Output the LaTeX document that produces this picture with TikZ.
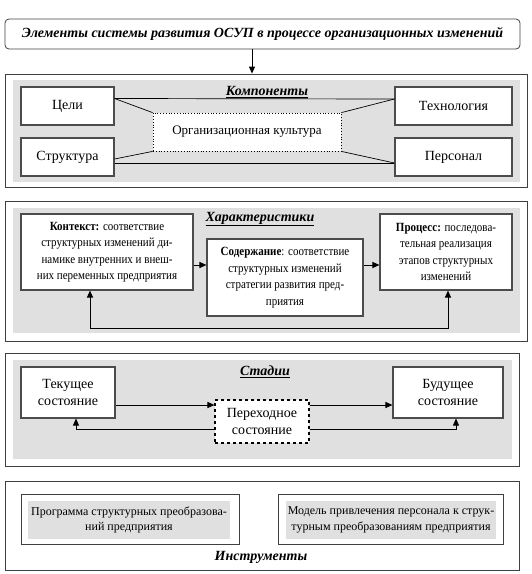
\documentclass[tikz,border=0pt]{standalone}
\usepackage{fontspec}
\setmainfont{Liberation Serif}
\newfontfamily\condfont{Liberation Serif}[FakeStretch=0.88]
\usetikzlibrary{arrows.meta,calc}
\begin{document}
\begin{tikzpicture}[x=1pt,y=-1pt,
  outer/.style={draw=black!75, line width=0.8pt},
  graybg/.style={fill=black!12, draw=none},
  ibox/.style={draw=black!70, line width=1.1pt, fill=white, align=center, inner sep=1pt, font=\fontsize{14}{17}\selectfont},
  cbox/.style={ibox, font=\condfont\fontsize{12.5}{16.5}\selectfont},
  ttl/.style={font=\fontsize{14}{16}\selectfont\bfseries\itshape},
  arr/.style={-{Triangle[length=7pt,width=6pt]}, line width=1pt},
  thin/.style={draw=black, line width=0.7pt},
]
\useasboundingbox (0,0) rectangle (532,574);
% top
\node[draw=black!75, line width=0.8pt, rounded corners=4pt, minimum width=515pt, minimum height=30pt,
  font=\fontsize{14}{16}\selectfont\bfseries\itshape] (top) at (262.5,34) {Элементы системы развития ОСУП в процессе организационных изменений};
% Components
\node[outer, minimum width=522pt, minimum height=113pt] (comp) at (266,130.5) {};
\fill[graybg] (13,80) rectangle (520,182);
\draw[arr] (top.south -| 252,0) -- (comp.north -| 252,0);
\node[ibox, minimum width=93pt, minimum height=38pt] (celi) at (67.5,106) {Цели};
\node[ibox, minimum width=93pt, minimum height=38pt] (str) at (67.5,157) {Структура};
\node[ibox, minimum width=117pt, minimum height=38pt] (tech) at (453.5,106) {Технология};
\node[ibox, minimum width=117pt, minimum height=38pt] (pers) at (453.5,157) {Персонал};
\node[draw=black, dotted, line width=0.8pt, fill=white, minimum width=188pt, minimum height=38pt,
  font=\fontsize{13}{16}\selectfont] (cult) at (247,132) {Организационная культура\hspace{20pt}};
\node[ttl] (tcomp) at (267,92) {\underline{Компоненты}};
\draw[thin] ($(celi.east)+(0,-7.5)$) -- ($(tech.west)+(0,-7)$);
\draw[thin] ($(celi.east)+(0,-7.5)$) -- (cult.north west);
\draw[thin] ($(tech.west)+(0,-7)$) -- (cult.north east);
\draw[thin] ($(str.east)+(0,6)$) -- ($(pers.west)+(0,6)$);
\draw[thin] ($(str.east)+(0,2)$) -- (cult.south west);
\draw[thin] ($(pers.west)+(0,6)$) -- (cult.south east);
% Characteristics
\node[outer, minimum width=522pt, minimum height=140pt] (char) at (266,271) {};
\fill[graybg] (13,208) rectangle (520,333);
\node[ttl] (tchar) at (260,219) {\underline{Характеристики}};
\node[cbox, minimum width=172pt, minimum height=76pt] (kont) at (107,252) {\textbf{Контекст:} соответствие\\структурных изменений ди-\\намике внутренних и внеш-\\них переменных предприятия};
\node[cbox, minimum width=156pt, minimum height=77pt] (sod) at (285,277.5) {\textbf{Содержание}: соответствие\\структурных изменений\\стратегии развития пред-\\приятия};
\node[cbox, minimum width=132pt, minimum height=76pt] (proc) at (446,252) {\textbf{Процесс:} последова-\\тельная реализация\\этапов структурных\\изменений};
\draw[arr] (kont.east |- 0,265) -- (sod.west |- 0,265);
\draw[arr] (sod.east |- 0,265) -- (proc.west |- 0,265);
\coordinate (lpa) at (90,328);
\coordinate (lpb) at (448,328);
\draw[{Triangle[length=7pt,width=6pt]}-{Triangle[length=7pt,width=6pt]}, line width=1pt]
  (kont.south -| lpa) -- (lpa) -- (lpb) -- (proc.south -| lpb);
% Stages
\node[outer, minimum width=514pt, minimum height=113pt] (stag) at (262,409.5) {};
\fill[graybg] (13,360) rectangle (512,459);
\node[ttl] (tstag) at (265,372) {\underline{Стадии}};
\node[ibox, minimum width=94pt, minimum height=51pt] (cur) at (68,392.5) {Текущее\\состояние};
\node[ibox, minimum width=110pt, minimum height=51pt] (fut) at (448,392.5) {Будущее\\состояние};
\node[draw=black, dashed, line width=1.1pt, fill=white, align=center, minimum width=94pt, minimum height=43pt,
  font=\fontsize{14}{17}\selectfont] (trans) at (262,421.5) {Переходное\\состояние};
\draw[arr] (cur.east |- 0,405) -- (trans.west |- 0,405);
\draw[arr] (trans.east |- 0,405) -- (fut.west |- 0,405);
\coordinate (ra) at (76,429);
\coordinate (rb) at (456,429);
\draw[arr, line width=0.7pt] (trans.west |- ra) -- (ra) -- (cur.south -| ra);
\draw[arr, line width=0.7pt] (trans.east |- rb) -- (rb) -- (fut.south -| rb);
% Instruments
\node[outer, minimum width=514pt, minimum height=89pt] (inst) at (262,525.5) {};
\node[draw=black!75, line width=1pt, minimum width=218pt, minimum height=50pt] (ia) at (130,519) {};
\node[fill=black!12, align=center, minimum width=202pt, minimum height=38pt, inner sep=1pt,
  font=\fontsize{12}{15.5}\selectfont] (ia2) at (129,520) {Программа структурных преобразова-\\ний предприятия};
\node[draw=black!75, line width=1pt, minimum width=225pt, minimum height=50pt] (ib) at (390.5,519) {};
\node[fill=black!12, align=center, minimum width=210pt, minimum height=38pt, inner sep=1pt,
  font=\fontsize{12}{15.5}\selectfont] (ib2) at (391,520) {Модель привлечения персонала к струк-\\турным преобразованиям предприятия};
\node[ttl] (tinst) at (261,557) {Инструменты};
\end{tikzpicture}
\end{document}
